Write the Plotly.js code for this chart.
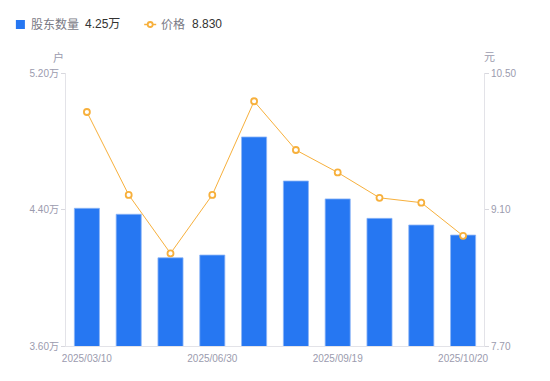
<!DOCTYPE html>
<html>
<head>
<meta charset="utf-8">
<script src="https://cdn.plot.ly/plotly-3.0.1.min.js"></script>
<style>html,body{margin:0;padding:0;background:#fff;}#chart{width:550px;height:381px;}</style>
</head>
<body>
<div id="chart"></div>
<script>
const dates = ["2025/03/10","2025/03/20","2025/03/31","2025/06/30","2025/07/31","2025/08/31","2025/09/19","2025/09/30","2025/10/10","2025/10/20"];
const holders = [4.407, 4.372, 4.117, 4.133, 4.825, 4.567, 4.462, 4.348, 4.309, 4.25];
const price = [10.10, 9.25, 8.65, 9.25, 10.21, 9.71, 9.48, 9.22, 9.17, 8.83];
const leftTicks = [3.60, 4.40, 5.20];
const leftTickText = ["3.60万", "4.40万", "5.20万"];
const rightTicks = [7.70, 9.10, 10.50];
const rightTickText = ["7.70", "9.10", "10.50"];
const shownDates = ["2025/03/10", "2025/06/30", "2025/09/19", "2025/10/20"];

const FONT = "Liberation Sans, Arial, Noto Sans CJK SC, sans-serif";
const BLUE = "#2677f2";
const ORANGE = "#f7b03c";
const TICKC = "#9b9bae";
const AXC = "#e3e3e8";

const traces = [
  {type: "bar", x: dates, y: holders, yaxis: "y", width: 0.6,
   marker: {color: BLUE, line: {color: "#8db5f6", width: 0.8}}, hoverinfo: "skip"},
  {type: "scatter", mode: "lines+markers", x: dates, y: price, yaxis: "y2",
   line: {color: ORANGE, width: 1},
   marker: {symbol: "circle", size: 6, color: "#fff", line: {color: ORANGE, width: 1.8}}, hoverinfo: "skip"}
];

const W = 417, H = 273;
const py = v => 1 + (73 - v) / H;
const px = v => (v - 67) / W;

const layout = {
  width: 550, height: 381,
  margin: {l: 66, r: 66, t: 73, b: 35},
  paper_bgcolor: "#fff", plot_bgcolor: "#fff",
  showlegend: false,
  font: {family: FONT, size: 10, color: TICKC},
  xaxis: {type: "category", range: [-0.5, dates.length - 0.5], tickmode: "array", tickvals: shownDates, ticktext: shownDates,
    showgrid: false, zeroline: false, showline: true, linecolor: AXC, linewidth: 1,
    ticks: "", ticklabelstandoff: 3, tickfont: {size: 10, color: TICKC}, fixedrange: true},
  yaxis: {range: [3.60, 5.20], tickmode: "array", tickvals: leftTicks, ticktext: leftTickText,
    showgrid: false, zeroline: false, showline: true, linecolor: AXC, linewidth: 1,
    ticks: "outside", ticklen: 4, tickcolor: "#d8d8de", tickfont: {size: 10, color: TICKC}},
  yaxis2: {range: [7.70, 10.50], overlaying: "y", side: "right", tickmode: "array",
    tickvals: rightTicks, ticktext: rightTickText,
    showgrid: false, zeroline: false, showline: true, linecolor: AXC, linewidth: 1,
    ticks: "outside", ticklen: 4, tickcolor: "#d8d8de", tickfont: {size: 10, color: TICKC}},
  shapes: [
    {type: "rect", xref: "paper", yref: "paper", x0: px(17), x1: px(26), y0: py(29), y1: py(20),
     fillcolor: BLUE, line: {width: 0}},
    {type: "line", xref: "paper", yref: "paper", x0: px(145), x1: px(157), y0: py(24.5), y1: py(24.5),
     line: {color: ORANGE, width: 1.5}},
    {type: "circle", xref: "paper", yref: "paper", x0: px(148.5), x1: px(153.5), y0: py(27), y1: py(22),
     fillcolor: "#fff", line: {color: ORANGE, width: 1.8}}
  ],
  annotations: [
    {xref: "paper", yref: "paper", x: px(30), y: py(24.5), xanchor: "left", yanchor: "middle", showarrow: false,
     text: "股东数量", font: {size: 12, color: "#7a7a85", family: FONT}},
    {xref: "paper", yref: "paper", x: px(84), y: py(24.5), xanchor: "left", yanchor: "middle", showarrow: false,
     text: "4.25万", font: {size: 12, color: "#333", family: FONT}},
    {xref: "paper", yref: "paper", x: px(160), y: py(24.5), xanchor: "left", yanchor: "middle", showarrow: false,
     text: "价格", font: {size: 12, color: "#7a7a85", family: FONT}},
    {xref: "paper", yref: "paper", x: px(191), y: py(24.5), xanchor: "left", yanchor: "middle", showarrow: false,
     text: "8.830", font: {size: 12, color: "#333", family: FONT}},
    {xref: "paper", yref: "paper", x: px(59.5), y: py(57), xanchor: "center", yanchor: "middle", showarrow: false,
     text: "户", font: {size: 11, color: TICKC, family: FONT}},
    {xref: "paper", yref: "paper", x: px(489.5), y: py(57), xanchor: "center", yanchor: "middle", showarrow: false,
     text: "元", font: {size: 11, color: TICKC, family: FONT}}
  ]
};

Plotly.newPlot("chart", traces, layout, {displayModeBar: false, staticPlot: true});
</script>
</body>
</html>
